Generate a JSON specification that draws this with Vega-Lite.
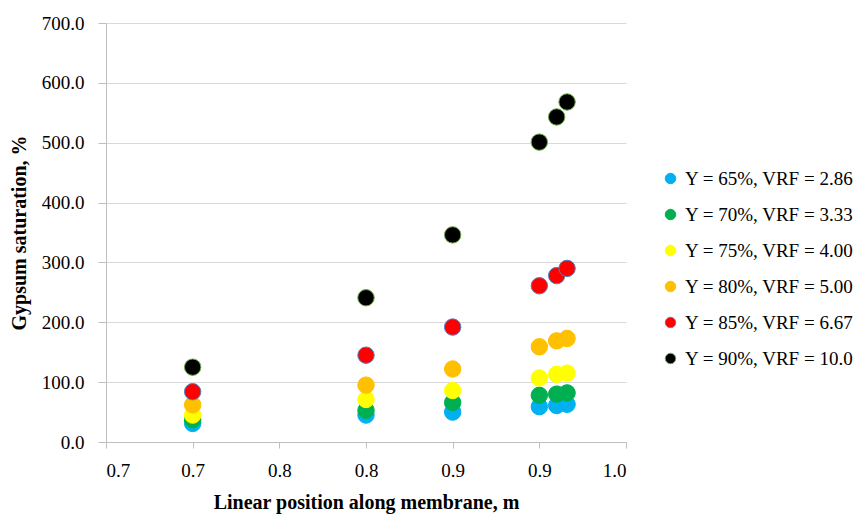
{
  "$schema": "https://vega.github.io/schema/vega-lite/v6.json",
  "width": 520,
  "height": 419,
  "autosize": {"type": "none"},
  "padding": {"left": 106, "top": 23, "right": 234, "bottom": 74},
  "background": "white",
  "config": {
    "font": "Liberation Serif",
    "view": {"stroke": null},
    "axis": {"labelFont": "Liberation Serif", "titleFont": "Liberation Serif", "labelColor": "#000000", "titleColor": "#000000"}
  },
  "data": {
    "values": [
      {"s": "Y = 65%, VRF = 2.86", "x": 0.70, "y": 31},
      {"s": "Y = 65%, VRF = 2.86", "x": 0.80, "y": 45},
      {"s": "Y = 65%, VRF = 2.86", "x": 0.85, "y": 50},
      {"s": "Y = 65%, VRF = 2.86", "x": 0.90, "y": 59},
      {"s": "Y = 65%, VRF = 2.86", "x": 0.91, "y": 61},
      {"s": "Y = 65%, VRF = 2.86", "x": 0.916, "y": 63},
      {"s": "Y = 70%, VRF = 3.33", "x": 0.70, "y": 37},
      {"s": "Y = 70%, VRF = 3.33", "x": 0.80, "y": 53},
      {"s": "Y = 70%, VRF = 3.33", "x": 0.85, "y": 66},
      {"s": "Y = 70%, VRF = 3.33", "x": 0.90, "y": 78},
      {"s": "Y = 70%, VRF = 3.33", "x": 0.91, "y": 80},
      {"s": "Y = 70%, VRF = 3.33", "x": 0.916, "y": 82},
      {"s": "Y = 75%, VRF = 4.00", "x": 0.70, "y": 45},
      {"s": "Y = 75%, VRF = 4.00", "x": 0.80, "y": 71},
      {"s": "Y = 75%, VRF = 4.00", "x": 0.85, "y": 86},
      {"s": "Y = 75%, VRF = 4.00", "x": 0.90, "y": 107},
      {"s": "Y = 75%, VRF = 4.00", "x": 0.91, "y": 113},
      {"s": "Y = 75%, VRF = 4.00", "x": 0.916, "y": 115},
      {"s": "Y = 80%, VRF = 5.00", "x": 0.70, "y": 62},
      {"s": "Y = 80%, VRF = 5.00", "x": 0.80, "y": 95},
      {"s": "Y = 80%, VRF = 5.00", "x": 0.85, "y": 122},
      {"s": "Y = 80%, VRF = 5.00", "x": 0.90, "y": 159},
      {"s": "Y = 80%, VRF = 5.00", "x": 0.91, "y": 169},
      {"s": "Y = 80%, VRF = 5.00", "x": 0.916, "y": 173},
      {"s": "Y = 85%, VRF = 6.67", "x": 0.70, "y": 84},
      {"s": "Y = 85%, VRF = 6.67", "x": 0.80, "y": 145},
      {"s": "Y = 85%, VRF = 6.67", "x": 0.85, "y": 192},
      {"s": "Y = 85%, VRF = 6.67", "x": 0.90, "y": 261},
      {"s": "Y = 85%, VRF = 6.67", "x": 0.91, "y": 278},
      {"s": "Y = 85%, VRF = 6.67", "x": 0.916, "y": 290},
      {"s": "Y = 90%, VRF = 10.0", "x": 0.70, "y": 125},
      {"s": "Y = 90%, VRF = 10.0", "x": 0.80, "y": 241},
      {"s": "Y = 90%, VRF = 10.0", "x": 0.85, "y": 346},
      {"s": "Y = 90%, VRF = 10.0", "x": 0.90, "y": 501},
      {"s": "Y = 90%, VRF = 10.0", "x": 0.91, "y": 543},
      {"s": "Y = 90%, VRF = 10.0", "x": 0.916, "y": 568}
    ]
  },
  "mark": {"type": "point", "filled": true, "shape": "circle", "size": 270, "opacity": 1, "strokeWidth": 1},
  "encoding": {
    "x": {
      "field": "x", "type": "quantitative",
      "scale": {"domain": [0.65, 0.95], "nice": false, "zero": false},
      "axis": {
        "title": "Linear position along membrane, m",
        "values": [0.65, 0.7, 0.75, 0.8, 0.85, 0.9, 0.95],
        "labelExpr": "format(datum.value + 0.000001, '.1f')",
        "grid": false,
        "domainColor": "#bfbfbf", "tickColor": "#bfbfbf", "tickSize": 6,
        "labelFontSize": 19, "labelPadding": 13,
        "titleFontSize": 20, "titleFontWeight": "bold", "titlePadding": 12
      }
    },
    "y": {
      "field": "y", "type": "quantitative",
      "scale": {"domain": [0, 700], "nice": false},
      "axis": {
        "title": "Gypsum saturation, %",
        "values": [0, 100, 200, 300, 400, 500, 600, 700],
        "format": ".1f",
        "grid": true, "gridColor": "#d9d9d9",
        "domainColor": "#bfbfbf", "tickColor": "#bfbfbf", "tickSize": 8,
        "labelFontSize": 19, "labelPadding": 14,
        "titleFontSize": 20, "titleFontWeight": "bold", "titlePadding": 12
      }
    },
    "fill": {
      "field": "s", "type": "nominal",
      "scale": {"range": ["#00B0F0", "#00B050", "#FFFF00", "#FFC000", "#FF0000", "#000000"]},
      "legend": {
        "title": null, "orient": "none", "legendX": 555, "legendY": 146,
        "symbolType": "circle", "symbolSize": 110, "labelFontSize": 19, "labelLimit": 300,
        "rowPadding": 16, "symbolStrokeWidth": 1, "labelOffset": 5
      }
    },
    "stroke": {
      "field": "s", "type": "nominal",
      "scale": {"range": ["#00B0F0", "#00B050", "#FFFF00", "#FFC000", "#4F81BD", "#70AD47"]},
      "legend": {
        "title": null, "orient": "none", "legendX": 555, "legendY": 146,
        "symbolType": "circle", "symbolSize": 110, "labelFontSize": 19, "labelLimit": 300,
        "rowPadding": 16, "symbolStrokeWidth": 1, "labelOffset": 5
      }
    }
  }
}
